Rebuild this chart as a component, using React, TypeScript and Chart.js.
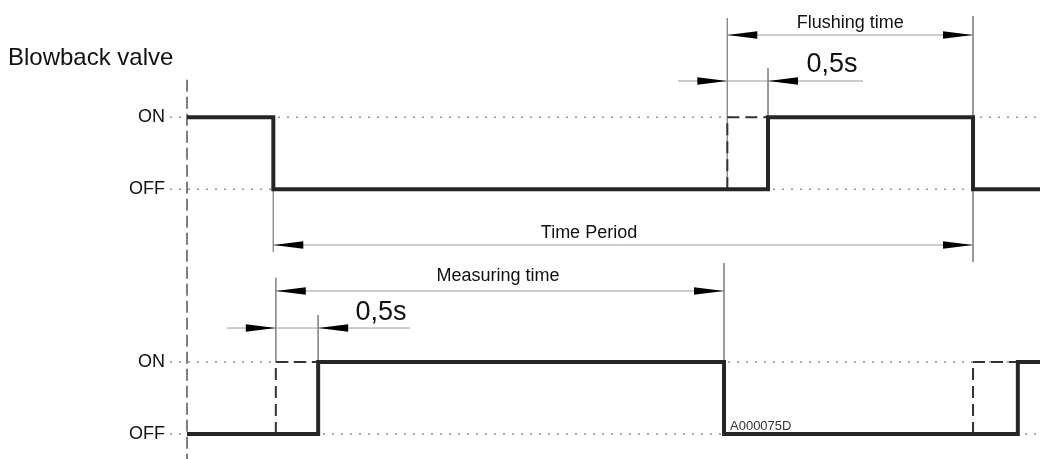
import React, { useEffect, useRef } from 'react';
import { Chart, registerables } from 'chart.js';

Chart.register(...registerables);

const FONT = '"Liberation Sans", Arial, Helvetica, sans-serif';

// Value axis: signal levels (bottom = measuring signal, top = blowback valve)
const LEVEL_VALUES = [0, 1, 3.4, 4.4];
const LEVEL_LABELS = ['OFF', 'ON', 'OFF', 'ON'];

// Axis ranges (time in s, level in arbitrary units)
const T_MIN = -0.205;
const T_MAX = 10.277;
const V_MIN = -0.347;
const V_MAX = 6.028;

// Blowback valve signal
const VALVE_T = [0, 1.04, 1.04, 7.0, 7.0, 9.47, 9.47, 10.28];
const VALVE_V = [4.4, 4.4, 3.4, 3.4, 4.4, 4.4, 3.4, 3.4];

// Measuring signal
const MEAS_T = [0, 1.58, 1.58, 6.47, 6.47, 10.01, 10.01, 10.28];
const MEAS_V = [0, 0, 1, 1, 0, 0, 1, 1];

// Command edges (dashed)
const GHOST_T = [
  [6.51, 6.51, 7.0],
  [1.07, 1.07, 1.58],
  [9.47, 9.47, 10.01],
];
const GHOST_V = [
  [3.4, 4.4, 4.4],
  [0, 1, 1],
  [0, 1, 1],
];

// Time origin marker (long dashed vertical)
const ORIGIN_T = 0;
const ORIGIN_V = [4.92, -0.347];

// Extension lines (thin verticals)
const EXT_T = [6.51, 7.0, 9.47, 1.04, 1.07, 1.58, 6.47];
const EXT_FROM = [5.778, 5.083, 5.806, 3.4, 2.17, 1.653, 2.375];
const EXT_TO = [3.4, 4.4, 2.389, 2.53, 1, 1, 1];

// Dimension lines (horizontal)
const DIM_FROM = [6.51, 5.916, 1.04, 1.07, 0.482];
const DIM_TO = [9.47, 8.145, 9.47, 6.47, 2.687];
const DIM_V = [5.542, 4.903, 2.625, 1.986, 1.472];

// Arrowheads: tip position and direction (-1 = points left, 1 = points right)
const ARROW_T = [6.51, 9.47, 6.51, 7.0, 1.04, 9.47, 1.07, 6.47, 1.07, 1.58];
const ARROW_V = [5.542, 5.542, 4.903, 4.903, 2.625, 2.625, 1.986, 1.986, 1.472, 1.472];
const ARROW_DIR = [-1, 1, 1, -1, -1, 1, -1, 1, 1, -1];

// Text labels
const LABEL_TEXT = ['Blowback valve', 'Flushing time', '0,5s', 'Time Period', 'Measuring time', '0,5s', 'A000075D'];
const LABEL_T = [-2.157, 7.99, 7.77, 4.843, 3.747, 2.337, 6.542];
const LABEL_V = [5.125, 5.639, 5.028, 2.722, 2.125, 1.583, 0.056];
const LABEL_SIZE = [24, 18, 27, 18, 18, 27, 13];
const LABEL_ALIGN = ['left', 'center', 'center', 'center', 'center', 'center', 'left'];

const pts = (ts: number[], vs: number[]) => ts.map((t, i) => ({ x: t, y: vs[i] }));

export default function App() {
  const ref = useRef<HTMLCanvasElement | null>(null);

  useEffect(() => {
    if (!ref.current) return;

    const datasets: any[] = [];

    // dotted reference lines at ON/OFF levels
    LEVEL_VALUES.forEach((v) => {
      datasets.push({
        data: pts([T_MIN, T_MAX], [v, v]),
        borderColor: '#8f8f8f',
        borderWidth: 1.5,
        borderDash: [2, 7],
        order: 5,
      });
    });

    // extension lines
    EXT_T.forEach((t, i) => {
      datasets.push({
        data: pts([t, t], [EXT_FROM[i], EXT_TO[i]]),
        borderColor: '#8c8c8c',
        borderWidth: 1,
        order: 4,
      });
    });

    // dimension lines
    DIM_V.forEach((v, i) => {
      datasets.push({
        data: pts([DIM_FROM[i], DIM_TO[i]], [v, v]),
        borderColor: '#9a9a9a',
        borderWidth: 1,
        order: 4,
      });
    });

    // origin dashed vertical
    datasets.push({
      data: pts([ORIGIN_T, ORIGIN_T], ORIGIN_V),
      borderColor: '#555555',
      borderWidth: 1.5,
      borderDash: [12, 5],
      order: 3,
    });

    // ghost command edges
    GHOST_T.forEach((ts, i) => {
      datasets.push({
        data: pts(ts, GHOST_V[i]),
        borderColor: '#333333',
        borderWidth: 2,
        borderDash: [12, 6],
        order: 2,
      });
    });

    // signals
    datasets.push({
      data: pts(VALVE_T, VALVE_V),
      borderColor: '#262626',
      borderWidth: 4,
      order: 0,
    });
    datasets.push({
      data: pts(MEAS_T, MEAS_V),
      borderColor: '#262626',
      borderWidth: 4,
      order: 0,
    });

    datasets.forEach((d) => {
      d.showLine = true;
      d.pointRadius = 0;
      d.pointHoverRadius = 0;
      d.fill = false;
      d.tension = 0;
      d.clip = false;
      d.borderJoinStyle = 'miter';
      d.borderCapStyle = 'butt';
    });

    const annot = {
      id: 'annot',
      afterDatasetsDraw(chart: any) {
        const { ctx, scales } = chart;
        const xs = scales.x;
        const ys = scales.y;
        ctx.save();
        ctx.fillStyle = '#000';
        ARROW_T.forEach((t, i) => {
          const px = xs.getPixelForValue(t);
          const py = ys.getPixelForValue(ARROW_V[i]);
          const dir = ARROW_DIR[i];
          const len = 30;
          const hw = 3.8;
          ctx.beginPath();
          ctx.moveTo(px, py);
          ctx.lineTo(px - dir * len, py - hw);
          ctx.lineTo(px - dir * len, py + hw);
          ctx.closePath();
          ctx.fill();
        });
        ctx.textBaseline = 'alphabetic';
        LABEL_TEXT.forEach((txt, i) => {
          ctx.font = `${LABEL_SIZE[i]}px ${FONT}`;
          ctx.textAlign = LABEL_ALIGN[i];
          ctx.fillStyle = i === 6 ? '#333' : '#111';
          ctx.fillText(txt, xs.getPixelForValue(LABEL_T[i]), ys.getPixelForValue(LABEL_V[i]));
        });
        ctx.restore();
      },
    };

    const chart = new Chart(ref.current, {
      type: 'scatter',
      data: { datasets },
      plugins: [annot],
      options: {
        animation: false,
        responsive: true,
        maintainAspectRatio: false,
        events: [],
        layout: { padding: 0 },
        plugins: {
          legend: { display: false },
          tooltip: { enabled: false },
          title: { display: false },
        },
        scales: {
          x: {
            type: 'linear',
            display: false,
            min: T_MIN,
            max: T_MAX,
          },
          y: {
            type: 'linear',
            position: 'left',
            min: V_MIN,
            max: V_MAX,
            grid: { display: false, drawTicks: false },
            border: { display: false },
            afterBuildTicks: (s: any) => {
              s.ticks = LEVEL_VALUES.map((v) => ({ value: v }));
            },
            afterFit: (s: any) => {
              s.width = 170;
              s.paddingTop = 0;
              s.paddingBottom = 0;
            },
            ticks: {
              autoSkip: false,
              padding: 5,
              color: '#111',
              font: { size: 18, family: FONT },
              callback: (v: any) => {
                const idx = LEVEL_VALUES.indexOf(Number(v));
                return idx >= 0 ? LEVEL_LABELS[idx] : '';
              },
            },
          },
        },
      } as any,
    });

    return () => chart.destroy();
  }, []);

  return (
    <div style={{ position: 'absolute', left: 0, top: 0, width: 1040, height: 459, background: '#fff' }}>
      <canvas ref={ref} />
    </div>
  );
}
